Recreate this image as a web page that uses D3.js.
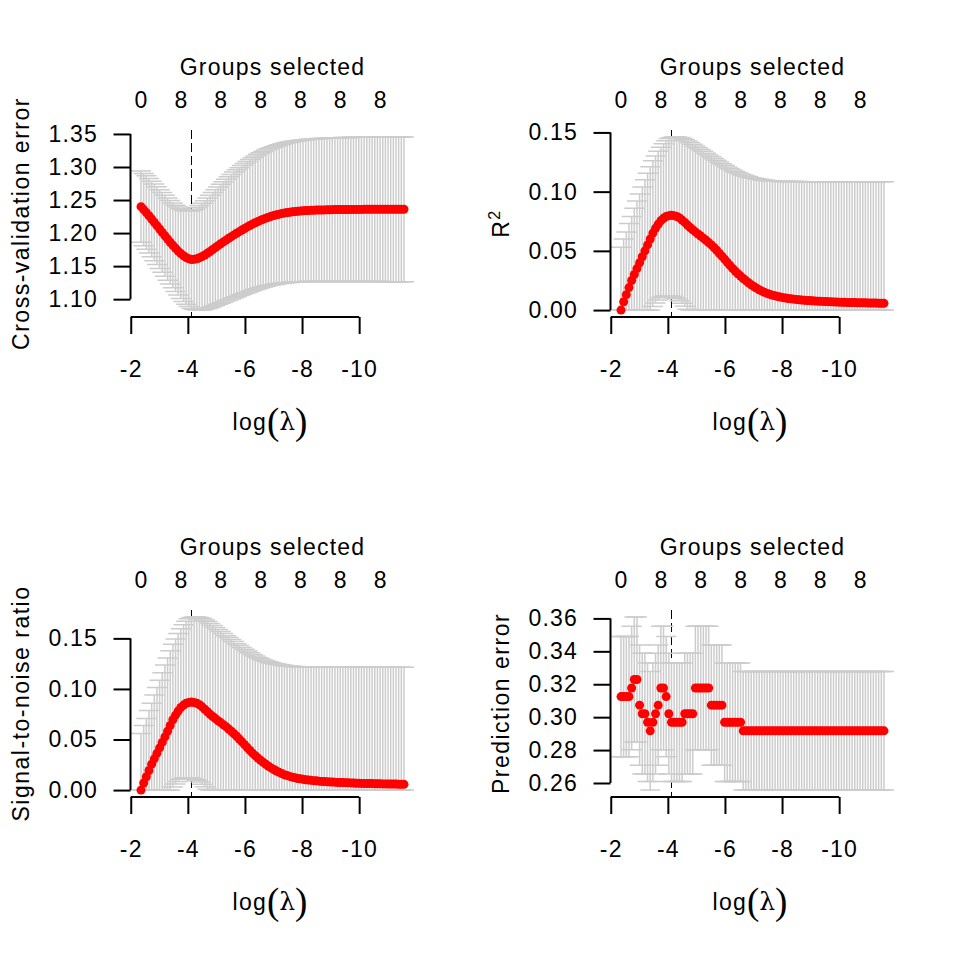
<!DOCTYPE html>
<html><head><meta charset="utf-8">
<script src="https://cdn.jsdelivr.net/npm/d3@7"></script>
<style>
body{margin:0;background:#fff}
svg text{font-family:'Liberation Sans',Arial,Helvetica,sans-serif;fill:#000}
</style>
</head><body>
<svg id="chart" width="960" height="960"></svg>
<script>
// ---------------- data ----------------
const logLambda = [-2.360,-2.453,-2.546,-2.639,-2.732,-2.825,-2.918,-3.011,-3.104,-3.197,
-3.290,-3.383,-3.476,-3.569,-3.662,-3.755,-3.849,-3.942,-4.035,-4.128,
-4.221,-4.314,-4.407,-4.500,-4.593,-4.686,-4.779,-4.872,-4.965,-5.058,
-5.151,-5.244,-5.337,-5.430,-5.523,-5.616,-5.709,-5.802,-5.895,-5.988,
-6.081,-6.174,-6.267,-6.360,-6.453,-6.546,-6.639,-6.732,-6.825,-6.918,
-7.012,-7.105,-7.198,-7.291,-7.384,-7.477,-7.570,-7.663,-7.756,-7.849,
-7.942,-8.035,-8.128,-8.221,-8.314,-8.407,-8.500,-8.593,-8.686,-8.779,
-8.872,-8.965,-9.058,-9.151,-9.244,-9.337,-9.430,-9.523,-9.616,-9.709,
-9.802,-9.895,-9.988,-10.081,-10.175,-10.268,-10.361,-10.454,-10.547,-10.640,
-10.733,-10.826,-10.919,-11.012,-11.105,-11.198,-11.291,-11.384,-11.477,-11.570];

const groupsSelected = [0,2,3,5,6,7,7,8,8,8, 8,8,8,8,8,8,8,8,8,8, 8,8,8,8,8,8,8,8,8,8,
8,8,8,8,8,8,8,8,8,8, 8,8,8,8,8,8,8,8,8,8, 8,8,8,8,8,8,8,8,8,8, 8,8,8,8,8,8,8,8,8,8,
8,8,8,8,8,8,8,8,8,8, 8,8,8,8,8,8,8,8,8,8, 8,8,8,8,8,8,8,8,8,8];

const minIndex = 19;

const cvError = [1.2400,1.2355,1.2310,1.2262,1.2213,1.2163,1.2112,1.2061,1.2010,1.1960,
1.1910,1.1862,1.1815,1.1770,1.1728,1.1690,1.1657,1.1631,1.1612,1.1600,
1.1603,1.1612,1.1626,1.1645,1.1668,1.1694,1.1722,1.1751,1.1780,1.1810,
1.1838,1.1866,1.1893,1.1920,1.1946,1.1972,1.1997,1.2022,1.2046,1.2070,
1.2093,1.2115,1.2136,1.2156,1.2175,1.2193,1.2210,1.2226,1.2240,1.2253,
1.2265,1.2276,1.2286,1.2295,1.2303,1.2310,1.2316,1.2321,1.2326,1.2330,
1.2334,1.2337,1.2340,1.2342,1.2344,1.2346,1.2348,1.2349,1.2350,1.2351,
1.2352,1.2353,1.2354,1.2355,1.2355,1.2356,1.2356,1.2357,1.2357,1.2357,
1.2358,1.2358,1.2358,1.2358,1.2359,1.2359,1.2359,1.2359,1.2359,1.2360,
1.2360,1.2360,1.2360,1.2360,1.2360,1.2360,1.2360,1.2360,1.2360,1.2360];

const cvErrorSE = [0.0540,0.0548,0.0556,0.0564,0.0572,0.0580,0.0588,0.0596,0.0604,0.0613,
0.0622,0.0632,0.0642,0.0653,0.0665,0.0678,0.0692,0.0707,0.0723,0.0740,
0.0757,0.0774,0.0791,0.0807,0.0822,0.0836,0.0850,0.0863,0.0876,0.0888,
0.0900,0.0911,0.0922,0.0932,0.0942,0.0951,0.0960,0.0968,0.0976,0.0984,
0.0991,0.0998,0.1004,0.1010,0.1016,0.1021,0.1026,0.1030,0.1035,0.1039,
0.1043,0.1047,0.1050,0.1053,0.1056,0.1059,0.1062,0.1064,0.1066,0.1068,
0.1070,0.1072,0.1074,0.1076,0.1077,0.1079,0.1080,0.1081,0.1082,0.1083,
0.1084,0.1085,0.1086,0.1087,0.1087,0.1088,0.1089,0.1089,0.1090,0.1090,
0.1091,0.1091,0.1092,0.1092,0.1092,0.1093,0.1093,0.1093,0.1094,0.1094,
0.1094,0.1094,0.1095,0.1095,0.1095,0.1095,0.1095,0.1095,0.1095,0.1095];

const rsq = [0.0000,0.0070,0.0130,0.0190,0.0250,0.0300,0.0350,0.0400,0.0450,0.0500,
0.0550,0.0600,0.0650,0.0690,0.0725,0.0755,0.0775,0.0790,0.0797,0.0800,
0.0797,0.0790,0.0778,0.0760,0.0740,0.0718,0.0697,0.0678,0.0660,0.0642,
0.0625,0.0607,0.0590,0.0570,0.0550,0.0528,0.0505,0.0480,0.0455,0.0430,
0.0403,0.0377,0.0352,0.0329,0.0307,0.0287,0.0267,0.0249,0.0231,0.0214,
0.0199,0.0185,0.0172,0.0160,0.0150,0.0141,0.0133,0.0126,0.0120,0.0114,
0.0110,0.0105,0.0101,0.0098,0.0095,0.0092,0.0090,0.0087,0.0085,0.0083,
0.0081,0.0080,0.0078,0.0077,0.0075,0.0074,0.0073,0.0072,0.0071,0.0070,
0.0069,0.0068,0.0067,0.0066,0.0066,0.0065,0.0064,0.0064,0.0063,0.0062,
0.0062,0.0061,0.0061,0.0060,0.0060,0.0059,0.0059,0.0058,0.0058,0.0057];

const rsqLower = [0,0,0,0,0,0,0,0,0,0,
0,0,0.0030,0.0060,0.0085,0.0105,0.0115,0.0120,0.0120,0.0115,
0.0107,0.0095,0.0079,0.0057,0.0032,0.0007,0,0,0,0,
0,0,0,0,0,0,0,0,0,0, 0,0,0,0,0,0,0,0,0,0, 0,0,0,0,0,0,0,0,0,0,
0,0,0,0,0,0,0,0,0,0, 0,0,0,0,0,0,0,0,0,0, 0,0,0,0,0,0,0,0,0,0, 0,0,0,0,0,0,0,0,0,0];

const rsqUpper = [0.0530,0.0600,0.0660,0.0730,0.0790,0.0860,0.0920,0.0980,0.1040,0.1100,
0.1155,0.1210,0.1260,0.1300,0.1340,0.1375,0.1405,0.1430,0.1448,0.1458,
0.1462,0.1462,0.1458,0.1450,0.1440,0.1428,0.1415,0.1400,0.1385,0.1370,
0.1355,0.1340,0.1325,0.1310,0.1295,0.1280,0.1265,0.1250,0.1236,0.1222,
0.1208,0.1195,0.1182,0.1170,0.1159,0.1149,0.1140,0.1132,0.1125,0.1118,
0.1113,0.1108,0.1104,0.1100,0.1097,0.1094,0.1092,0.1090,0.1088,0.1087,
0.1086,0.1086,0.1086,0.1085,0.1085,0.1085,0.1085,0.1085,0.1084,0.1084,
0.1084,0.1084,0.1084,0.1084,0.1084,0.1084,0.1083,0.1083,0.1083,0.1083,
0.1083,0.1083,0.1083,0.1083,0.1083,0.1083,0.1083,0.1083,0.1083,0.1083,
0.1083,0.1083,0.1083,0.1083,0.1083,0.1083,0.1083,0.1083,0.1083,0.1083];

const snr = [0.0000,0.0070,0.0132,0.0194,0.0256,0.0309,0.0363,0.0417,0.0471,0.0526,
0.0582,0.0638,0.0695,0.0741,0.0782,0.0817,0.0840,0.0858,0.0866,0.0870,
0.0866,0.0858,0.0844,0.0823,0.0799,0.0774,0.0749,0.0727,0.0707,0.0686,
0.0667,0.0646,0.0627,0.0604,0.0582,0.0557,0.0532,0.0504,0.0477,0.0449,
0.0420,0.0392,0.0365,0.0340,0.0317,0.0295,0.0274,0.0255,0.0236,0.0219,
0.0203,0.0188,0.0175,0.0163,0.0152,0.0143,0.0135,0.0128,0.0121,0.0115,
0.0111,0.0106,0.0102,0.0099,0.0096,0.0093,0.0091,0.0088,0.0086,0.0084,
0.0082,0.0081,0.0079,0.0078,0.0076,0.0075,0.0074,0.0073,0.0072,0.0071,
0.0069,0.0068,0.0067,0.0066,0.0066,0.0065,0.0064,0.0064,0.0063,0.0062,
0.0062,0.0061,0.0061,0.0060,0.0060,0.0059,0.0059,0.0058,0.0058,0.0057];

const snrLower = [0,0,0,0,0,0,0,0,0,0,
0,0,0.0030,0.0060,0.0086,0.0106,0.0116,0.0121,0.0121,0.0116,
0.0108,0.0096,0.0080,0.0057,0.0032,0.0007,0,0,0,0,
0,0,0,0,0,0,0,0,0,0, 0,0,0,0,0,0,0,0,0,0, 0,0,0,0,0,0,0,0,0,0,
0,0,0,0,0,0,0,0,0,0, 0,0,0,0,0,0,0,0,0,0, 0,0,0,0,0,0,0,0,0,0, 0,0,0,0,0,0,0,0,0,0];

const snrUpper = [0.0560,0.0638,0.0707,0.0787,0.0858,0.0941,0.1013,0.1086,0.1161,0.1236,
0.1306,0.1377,0.1442,0.1494,0.1547,0.1594,0.1635,0.1669,0.1693,0.1707,
0.1712,0.1712,0.1707,0.1696,0.1682,0.1666,0.1648,0.1628,0.1608,0.1587,
0.1567,0.1547,0.1527,0.1508,0.1488,0.1468,0.1448,0.1429,0.1410,0.1392,
0.1374,0.1357,0.1340,0.1325,0.1311,0.1298,0.1287,0.1277,0.1268,0.1259,
0.1252,0.1246,0.1241,0.1236,0.1232,0.1228,0.1226,0.1223,0.1221,0.1220,
0.1218,0.1218,0.1218,0.1217,0.1217,0.1217,0.1217,0.1217,0.1216,0.1216,
0.1216,0.1216,0.1216,0.1216,0.1216,0.1216,0.1215,0.1215,0.1215,0.1215,
0.1215,0.1215,0.1215,0.1215,0.1215,0.1215,0.1215,0.1215,0.1215,0.1215,
0.1215,0.1215,0.1215,0.1215,0.1215,0.1215,0.1215,0.1215,0.1215,0.1215];

const predError = [0.3125,0.3125,0.3125,0.3125,0.3177,0.3229,0.3229,0.3073,0.3021,0.3021,
0.2969,0.2917,0.2969,0.3021,0.3073,0.3177,0.3177,0.3125,0.3021,0.2969,
0.2969,0.2969,0.2969,0.2969,0.3021,0.3021,0.3021,0.3021,0.3177,0.3177,
0.3177,0.3177,0.3177,0.3177,0.3073,0.3073,0.3073,0.3073,0.3073,0.2969,
0.2969,0.2969,0.2969,0.2969,0.2969,0.2969,0.2917,0.2917,0.2917,0.2917,
0.2917,0.2917,0.2917,0.2917,0.2917,0.2917,0.2917,0.2917,0.2917,0.2917,
0.2917,0.2917,0.2917,0.2917,0.2917,0.2917,0.2917,0.2917,0.2917,0.2917,
0.2917,0.2917,0.2917,0.2917,0.2917,0.2917,0.2917,0.2917,0.2917,0.2917,
0.2917,0.2917,0.2917,0.2917,0.2917,0.2917,0.2917,0.2917,0.2917,0.2917,
0.2917,0.2917,0.2917,0.2917,0.2917,0.2917,0.2917,0.2917,0.2917,0.2917];

const predErrorSE = [0.0365,0.0365,0.0365,0.0365,0.0375,0.0380,0.0380,0.0365,0.0367,0.0367,
0.0360,0.0360,0.0360,0.0367,0.0365,0.0375,0.0375,0.0365,0.0367,0.0360,
0.0360,0.0360,0.0360,0.0360,0.0367,0.0367,0.0367,0.0367,0.0375,0.0375,
0.0375,0.0375,0.0375,0.0375,0.0365,0.0365,0.0365,0.0365,0.0365,0.0360,
0.0360,0.0360,0.0360,0.0360,0.0360,0.0360,0.0360,0.0360,0.0360,0.0360,
0.0360,0.0360,0.0360,0.0360,0.0360,0.0360,0.0360,0.0360,0.0360,0.0360,
0.0360,0.0360,0.0360,0.0360,0.0360,0.0360,0.0360,0.0360,0.0360,0.0360,
0.0360,0.0360,0.0360,0.0360,0.0360,0.0360,0.0360,0.0360,0.0360,0.0360,
0.0360,0.0360,0.0360,0.0360,0.0360,0.0360,0.0360,0.0360,0.0360,0.0360,
0.0360,0.0360,0.0360,0.0360,0.0360,0.0360,0.0360,0.0360,0.0360,0.0360];

const xTicks = [-2, -4, -6, -8, -10];
const cvTicks = [1.10, 1.15, 1.20, 1.25, 1.30, 1.35];
const rsqTicks = [0.00, 0.05, 0.10, 0.15];
const snrTicks = [0.00, 0.05, 0.10, 0.15];
const peTicks = [0.26, 0.28, 0.30, 0.32, 0.34, 0.36];

const topTitle = "Groups selected";
const xLabel = "log";

// ---------------- drawing ----------------
const FONT = 23, LS = 1.2;
const plotL = 130.5, plotR = 414.5, plotT = 130, plotB = 317;

const panels = [
  {row:0, col:0, ylab:"Cross-validation error", y:cvError,
   lo:cvError.map((v,i)=>v-cvErrorSE[i]), hi:cvError.map((v,i)=>v+cvErrorSE[i]), ticks:cvTicks},
  {row:0, col:1, ylab:"R2", y:rsq, lo:rsqLower, hi:rsqUpper, ticks:rsqTicks},
  {row:1, col:0, ylab:"Signal-to-noise ratio", y:snr, lo:snrLower, hi:snrUpper, ticks:snrTicks},
  {row:1, col:1, ylab:"Prediction error", y:predError,
   lo:predError.map((v,i)=>v-predErrorSE[i]), hi:predError.map((v,i)=>v+predErrorSE[i]), ticks:peTicks}
];

const svg = d3.select('#chart');
svg.append('rect').attr('width',960).attr('height',960).attr('fill','#fff');

const xr = d3.max(logLambda) - d3.min(logLambda);
const x = d3.scaleLinear()
  .domain([d3.max(logLambda) + 0.04*xr, d3.min(logLambda) - 0.04*xr])
  .range([plotL, plotR]);

panels.forEach(p => {
  const g = svg.append('g').attr('transform', `translate(${p.col*480},${p.row*480})`);
  const ymin = d3.min(p.lo), ymax = d3.max(p.hi), yr = ymax - ymin;
  const y = d3.scaleLinear().domain([ymin - 0.04*yr, ymax + 0.04*yr]).range([plotB, plotT]);

  // vertical dashed line at minimum
  const vx = x(logLambda[minIndex]);
  g.append('line').attr('x1', vx).attr('x2', vx).attr('y1', plotT).attr('y2', plotB)
    .attr('stroke', '#000').attr('stroke-width', 1).attr('stroke-dasharray', '9,4');

  // error bars
  g.append('g').attr('fill','none').attr('stroke','#cccccc').attr('stroke-width',1.5)
    .selectAll('path').data(logLambda).join('path')
    .attr('d', (l,i) => {
      const px = x(l), y0 = y(p.lo[i]), y1 = y(p.hi[i]);
      return `M${px},${y0}V${y1}M${px-10},${y0}H${px+10}M${px-10},${y1}H${px+10}`;
    });

  // points
  g.append('g').selectAll('circle').data(p.y).join('circle')
    .attr('cx', (d,i) => x(logLambda[i])).attr('cy', d => y(d))
    .attr('r', 4.5).attr('fill', '#ff0000');

  // x axis
  const xa = g.append('g').attr('transform', `translate(0,${plotB})`)
    .call(d3.axisBottom(x).tickValues(xTicks).tickSize(17).tickSizeOuter(0).tickPadding(26.5)
      .tickFormat(d => String(d)));
  xa.select('.domain').attr('d', `M${x(xTicks[0])},0H${x(xTicks[xTicks.length-1])}`);
  xa.selectAll('path,line').attr('stroke','#000').attr('stroke-width',2);
  xa.selectAll('text').attr('font-size',FONT).attr('letter-spacing',LS)
    .attr('font-family',"'Liberation Sans',Arial,sans-serif").attr('fill','#000');

  // y axis
  const ya = g.append('g').attr('transform', `translate(${plotL},0)`)
    .call(d3.axisLeft(y).tickValues(p.ticks).tickSize(17).tickSizeOuter(0).tickPadding(15.5)
      .tickFormat(d3.format('.2f')));
  ya.select('.domain').attr('d', `M0,${y(p.ticks[0])}V${y(p.ticks[p.ticks.length-1])}`);
  ya.selectAll('path,line').attr('stroke','#000').attr('stroke-width',2);
  ya.selectAll('text').attr('font-size',FONT).attr('letter-spacing',LS)
    .attr('font-family',"'Liberation Sans',Arial,sans-serif").attr('fill','#000');

  // top axis: groups selected (overlapping labels skipped)
  let lastX = -Infinity;
  logLambda.forEach((l,i) => {
    const px = x(l);
    if (px - lastX >= 38.5) {
      g.append('text').attr('x', px).attr('y', 108).attr('text-anchor','middle')
        .attr('font-size', FONT).text(groupsSelected[i]);
      lastX = px;
    }
  });
  g.append('text').attr('x', (plotL+plotR)/2).attr('y', 75).attr('text-anchor','middle')
    .attr('font-size', FONT).attr('letter-spacing', LS).text(topTitle);

  // x label log(λ)
  const xl = g.append('text').attr('x', 270).attr('y', 430).attr('text-anchor','middle')
    .attr('font-size', FONT);
  xl.append('tspan').attr('letter-spacing', LS).text(xLabel);
  xl.append('tspan').attr('font-family',"'Liberation Serif',serif").attr('font-size',37).attr('dy',3.7).text('(');
  xl.append('tspan').attr('font-family',"'DejaVu Serif',serif").attr('font-size',25).attr('dy',-3.7).text('λ');
  xl.append('tspan').attr('font-family',"'Liberation Serif',serif").attr('font-size',37).attr('dy',3.7).text(')');

  // y label
  const yl = g.append('text').attr('transform', `translate(29,${(plotT+plotB)/2}) rotate(-90)`)
    .attr('text-anchor','middle').attr('font-size', FONT).attr('letter-spacing', 1.5);
  if (p.ylab === 'R2') {
    yl.append('tspan').text('R');
    yl.append('tspan').attr('font-size', 16).attr('dy', -9).text('2');
  } else {
    yl.text(p.ylab);
  }
});
</script>
</body></html>
